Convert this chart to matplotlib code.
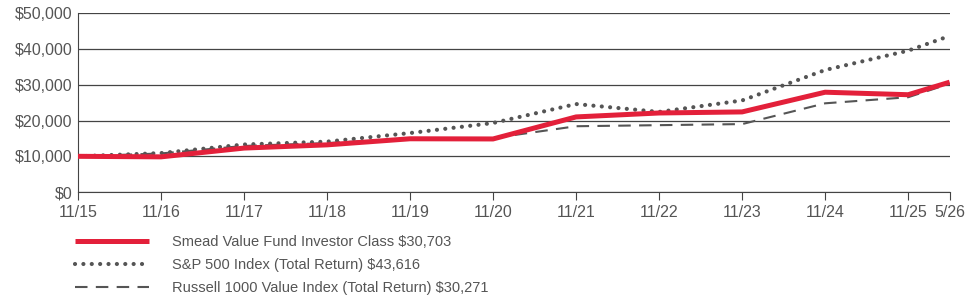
import matplotlib.pyplot as plt
from matplotlib.ticker import FuncFormatter

plt.rcParams['font.family'] = ['Liberation Sans', 'DejaVu Sans']

# dates en années depuis 11/15
periodes = ['11/15', '11/16', '11/17', '11/18', '11/19', '11/20', '11/21',
            '11/22', '11/23', '11/24', '11/25', '5/26']
pos = [0, 1, 2, 3, 4, 5, 6, 7, 8, 9, 10, 10.5]

smead = [10000, 9850, 12300, 13200, 14900, 14850, 21000, 22100, 22400, 27900, 27200, 30703]
sp500 = [10000, 10900, 13300, 14100, 16500, 19300, 24600, 22400, 25600, 34100, 39500, 43616]
russell = [10000, 10800, 12900, 13700, 15000, 15100, 18400, 18700, 19000, 24800, 26500, 30271]

labels = ['Smead Value Fund Investor Class $30,703',
          'S&P 500 Index (Total Return) $43,616',
          'Russell 1000 Value Index (Total Return) $30,271']

gris = '#555555'
rouge = '#E3203A'

fig = plt.figure(figsize=(9.75, 3.04), dpi=100)
ax = fig.add_axes([0.080, 0.368, 0.894, 0.589])

l2, = ax.plot(pos, sp500, color=gris, lw=3.0, linestyle=(0, (0.01, 2.0)),
              dash_capstyle='round', zorder=3)
l3, = ax.plot(pos, russell, color=gris, lw=1.5, linestyle=(0, (6, 4)), zorder=2)
l1, = ax.plot(pos, smead, color=rouge, lw=3.6, solid_capstyle='butt', zorder=4)

ax.set_xlim(0, 10.5)
ax.set_ylim(0, 50000)
ax.set_yticks(range(0, 50001, 10000))
ax.yaxis.set_major_formatter(FuncFormatter(lambda v, p: f'${v:,.0f}'))
ax.set_xticks(pos)
ax.set_xticklabels(periodes)
ax.grid(axis='y', color='#444444', lw=0.9)
ax.set_axisbelow(True)
for s in ['top', 'right']:
    ax.spines[s].set_visible(False)
ax.spines['left'].set_color('#444444')
ax.spines['bottom'].set_color('#444444')
ax.tick_params(axis='y', length=0, pad=4, labelsize=11.5, labelcolor=gris)
ax.tick_params(axis='x', length=6, color='#444444', pad=3, labelsize=11.5, labelcolor=gris)

fig.legend([l1, l2, l3], labels, loc='upper left', bbox_to_anchor=(0.0705, 0.245),
           frameon=False, fontsize=10.5, labelcolor=gris, handlelength=5.1,
           handletextpad=1.55, labelspacing=0.62, borderaxespad=0)

fig.savefig('out.png', dpi=100)
